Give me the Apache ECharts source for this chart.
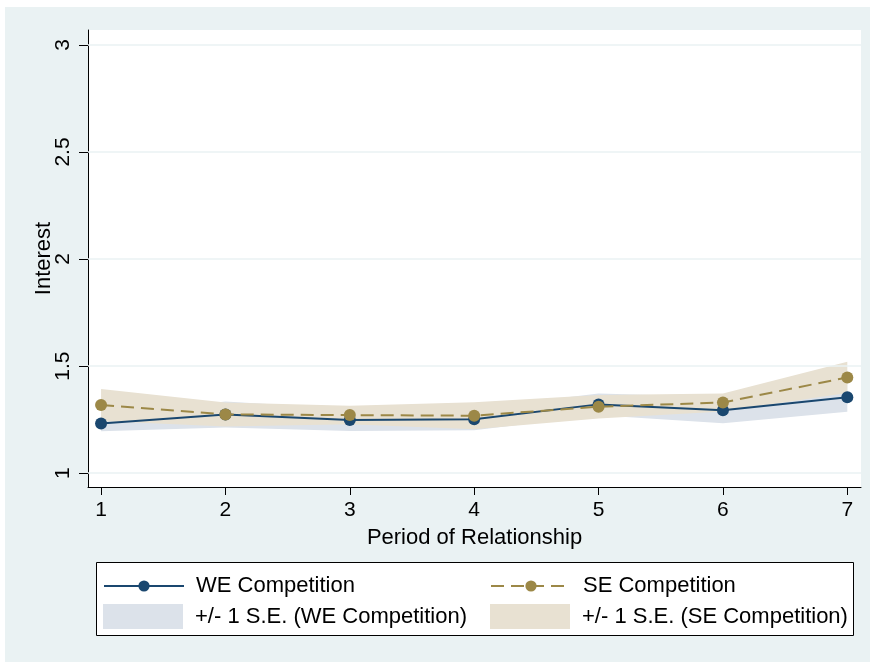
<!DOCTYPE html>
<html>
<head>
<meta charset="utf-8">
<script src="https://cdn.jsdelivr.net/npm/echarts@6/dist/echarts.min.js"></script>
<style>
html,body{margin:0;padding:0;background:#ffffff;}
#chart{width:870px;height:662px;}
</style>
</head>
<body>
<div id="chart"></div>
<script>
// ---- data ----
const periods = [1, 2, 3, 4, 5, 6, 7];
const weMean = [1.232, 1.274, 1.248, 1.251, 1.321, 1.294, 1.354];
const weSE   = [0.037, 0.061, 0.051, 0.051, 0.051, 0.061, 0.068];
const seMean = [1.318, 1.274, 1.271, 1.268, 1.310, 1.330, 1.447];
const seSE   = [0.075, 0.056, 0.043, 0.063, 0.055, 0.042, 0.073];
const yTicks = [1, 1.5, 2, 2.5, 3];
const xTicks = [1, 2, 3, 4, 5, 6, 7];
const seriesNames = ['WE Competition', 'SE Competition'];
const bandNames = ['+/- 1 S.E. (WE Competition)', '+/- 1 S.E. (SE Competition)'];

const NAVY = '#1A476F', BROWN = '#9C8847';
const NAVY_BAND = '#DCE2EA', BROWN_BAND = '#E8E1D2';
const FONT = 'Liberation Sans, Arial, sans-serif';

const pts = (arr) => periods.map((p, i) => [p, arr[i]]);

function bandSeries(name, mean, se, color, z) {
  return {
    name: name, type: 'custom', z: z, silent: true,
    itemStyle: {color: color},
    data: [[periods[0], mean[0]]],
    renderItem: function (params, api) {
      const upper = periods.map((p, i) => api.coord([p, mean[i] + se[i]]));
      const lowerPts = periods.map((p, i) => api.coord([p, mean[i] - se[i]])).reverse();
      return {
        type: 'polygon',
        shape: {points: upper.concat(lowerPts)},
        style: {fill: color, stroke: null}
      };
    }
  };
}

const chart = echarts.init(document.getElementById('chart'), null, {renderer: 'canvas'});

const legendBase = {
  orient: 'horizontal',
  itemGap: 0,
  textStyle: {fontFamily: FONT, fontSize: 22, color: '#000', padding: [0, 0, 0, 7]},
  selectedMode: false
};

chart.setOption({
  animation: false,
  backgroundColor: '#ffffff',
  graphic: [
    {type: 'rect', z: -10, shape: {x: 5, y: 7, width: 865, height: 655}, style: {fill: '#EAF2F3'}, silent: true},
    {type: 'rect', z: -5, shape: {x: 96.5, y: 562.5, width: 757, height: 73}, style: {fill: '#ffffff', stroke: '#000', lineWidth: 1}, silent: true}
  ],
  grid: {left: 88, right: 9, top: 30, bottom: 175, show: true, backgroundColor: '#ffffff', borderWidth: 0},
  xAxis: {
    type: 'value', min: 0.895, max: 7.11,
    name: 'Period of Relationship', nameLocation: 'middle', nameGap: 40,
    nameTextStyle: {fontFamily: FONT, fontSize: 22, color: '#000'},
    axisLine: {show: true, onZero: false, lineStyle: {color: '#000', width: 1}},
    axisTick: {show: true, length: 8, lineStyle: {color: '#000'}, customValues: xTicks},
    axisLabel: {fontFamily: FONT, fontSize: 21, color: '#000', margin: 13, customValues: xTicks},
    splitLine: {show: false}
  },
  yAxis: {
    type: 'value', min: 0.935, max: 3.07,
    name: 'Interest', nameLocation: 'middle', nameGap: 33, nameRotate: 90, nameMoveOverlap: false,
    nameTextStyle: {fontFamily: FONT, fontSize: 22, color: '#000'},
    axisLine: {show: true, onZero: false, lineStyle: {color: '#000', width: 1}},
    axisTick: {show: true, length: 9, lineStyle: {color: '#000'}, customValues: yTicks},
    axisLabel: {fontFamily: FONT, fontSize: 21, color: '#000', margin: 14, rotate: 90, customValues: yTicks},
    splitLine: {show: false}
  },
  legend: [
    Object.assign({}, legendBase, {left: 98, top: 570, itemWidth: 80, itemHeight: 14, data: [seriesNames[0]]}),
    Object.assign({}, legendBase, {left: 485, top: 570, itemWidth: 80, itemHeight: 14, data: [seriesNames[1]]}),
    Object.assign({}, legendBase, {left: 98, top: 599, itemWidth: 80, itemHeight: 25,
      data: [{name: bandNames[0], icon: 'rect', itemStyle: {color: NAVY_BAND}}]}),
    Object.assign({}, legendBase, {left: 485, top: 599, itemWidth: 80, itemHeight: 25,
      data: [{name: bandNames[1], icon: 'rect', itemStyle: {color: BROWN_BAND}}]})
  ],
  series: [
    {
      name: 'grid', type: 'line', data: [], z: 1, silent: true,
      markLine: {
        silent: true, symbol: 'none', label: {show: false},
        lineStyle: {color: '#EAF2F3', width: 1.5, type: 'solid'},
        data: yTicks.map(v => ({yAxis: v}))
      }
    },
    bandSeries(bandNames[0], weMean, weSE, NAVY_BAND, 2),
    bandSeries(bandNames[1], seMean, seSE, BROWN_BAND, 3),
    {
      name: seriesNames[0], type: 'line', data: pts(weMean), z: 4,
      symbol: 'circle', symbolSize: 12,
      itemStyle: {color: NAVY},
      lineStyle: {color: NAVY, width: 2, type: 'solid'}
    },
    {
      name: seriesNames[1], type: 'line', data: pts(seMean), z: 5,
      symbol: 'circle', symbolSize: 12,
      itemStyle: {color: BROWN},
      lineStyle: {color: BROWN, width: 2, type: [13, 7]}
    }
  ]
});
</script>
</body>
</html>
